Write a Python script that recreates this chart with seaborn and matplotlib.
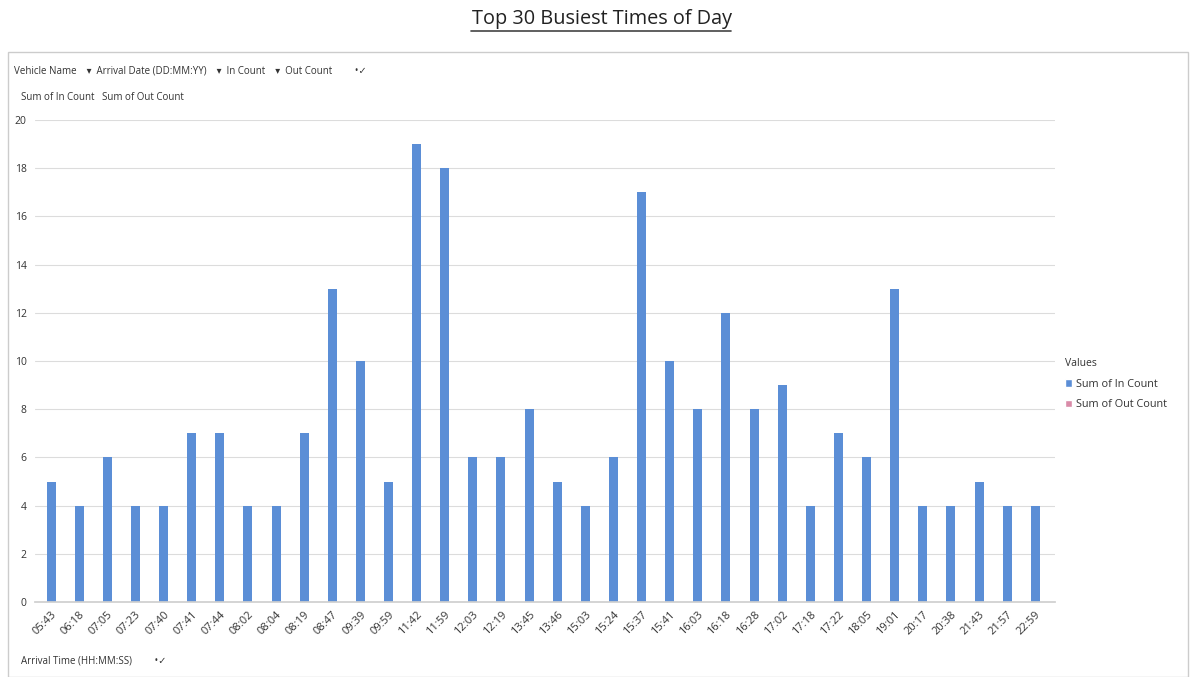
import matplotlib
matplotlib.use("Agg")
import matplotlib.pyplot as plt
import seaborn as sns
import pandas as pd
from matplotlib.patches import Patch, Rectangle

times = ["05:43", "06:18", "07:05", "07:23", "07:40", "07:41", "07:44", "08:02", "08:04",
         "08:19", "08:47", "09:39", "09:59", "11:42", "11:59", "12:03", "12:19", "13:45",
         "13:46", "15:03", "15:24", "15:37", "15:41", "16:03", "16:18", "16:28", "17:02",
         "17:18", "17:22", "18:05", "19:01", "20:17", "20:38", "21:43", "21:57", "22:59"]
in_count = [5, 4, 6, 4, 4, 7, 7, 4, 4, 7, 13, 10, 5, 19, 18, 6, 6, 8,
            5, 4, 6, 17, 10, 8, 12, 8, 9, 4, 7, 6, 13, 4, 4, 5, 4, 4]
yticks = [0, 2, 4, 6, 8, 10, 12, 14, 16, 18, 20]

df = pd.DataFrame({"time": times, "in": in_count})

sns.set_theme(style="white")
plt.rcParams['font.family'] = ['Open Sans', 'DejaVu Sans']

fig = plt.figure(figsize=(11.93, 6.77), dpi=100)
ax = fig.add_axes([35/1193, 1 - 602/677, (1055 - 35)/1193, (602 - 120)/677])

blue = "#5B8ED6"
pink = "#D98BA8"
sns.barplot(data=df, x="time", y="in", color=blue, width=0.32, ax=ax,
            saturation=1, edgecolor="none")

ax.set_ylim(0, 20)
ax.set_xlim(-0.57, len(times) - 0.3)
ax.set_yticks(yticks)
ax.set_yticklabels([str(v) for v in yticks], fontsize=7.5, color="#333333")
ax.tick_params(axis="x", labelrotation=45, labelsize=8, colors="#333333", length=0, pad=5)
ax.tick_params(axis="y", length=0, pad=6)
for lbl in ax.get_xticklabels():
    lbl.set_ha("right")
    lbl.set_rotation_mode("anchor")
ax.grid(axis="y", color="#dcdcdc", linewidth=0.8)
ax.set_axisbelow(True)
for s in ["top", "right", "left"]:
    ax.spines[s].set_visible(False)
ax.spines["bottom"].set_color("#cfcfcf")
ax.set_xlabel("")
ax.set_ylabel("")

# legend
handles = [Patch(facecolor=blue, label="Sum of In Count"),
           Patch(facecolor=pink, label="Sum of Out Count")]
leg = fig.legend(handles=handles, title="Values", loc="upper left",
                 bbox_to_anchor=(1055/1193, 1 - 348/677), frameon=False,
                 fontsize=7.8, title_fontsize=7.5, handlelength=0.7, handleheight=0.7,
                 handletextpad=0.3, labelspacing=0.9)
leg._legend_box.align = "left"
for t in leg.get_texts():
    t.set_color("#333333")
leg.get_title().set_color("#333333")

# outer frame
fig.patches.append(Rectangle((8/1193, 0.0), (1188 - 8)/1193, 1 - 52/677,
                             transform=fig.transFigure, fill=False,
                             edgecolor="#cccccc", linewidth=1))

# title
fig.text(0.5045, 1 - 19/677, "Top 30 Busiest Times of Day", ha="center", va="center",
         fontsize=14.3, color="#222222")
fig.add_artist(plt.Line2D([471/1193, 731/1193], [1 - 31/677, 1 - 31/677],
                          color="#444444", linewidth=1.2, transform=fig.transFigure))

# pivot-like header texts
fig.text(14/1193, 1 - 71/677,
         "Vehicle Name    \u25be  Arrival Date (DD:MM:YY)    \u25be  In Count    \u25be  Out Count         \u2022\u2713",
         fontsize=7, color="#333333", va="center")
fig.text(21/1193, 1 - 97/677, "Sum of In Count   Sum of Out Count", fontsize=7,
         color="#333333", va="center")
fig.text(21/1193, 1 - 661/677, "Arrival Time (HH:MM:SS)         \u2022\u2713", fontsize=7,
         color="#333333", va="center")

fig.savefig("out.png", dpi=100)
